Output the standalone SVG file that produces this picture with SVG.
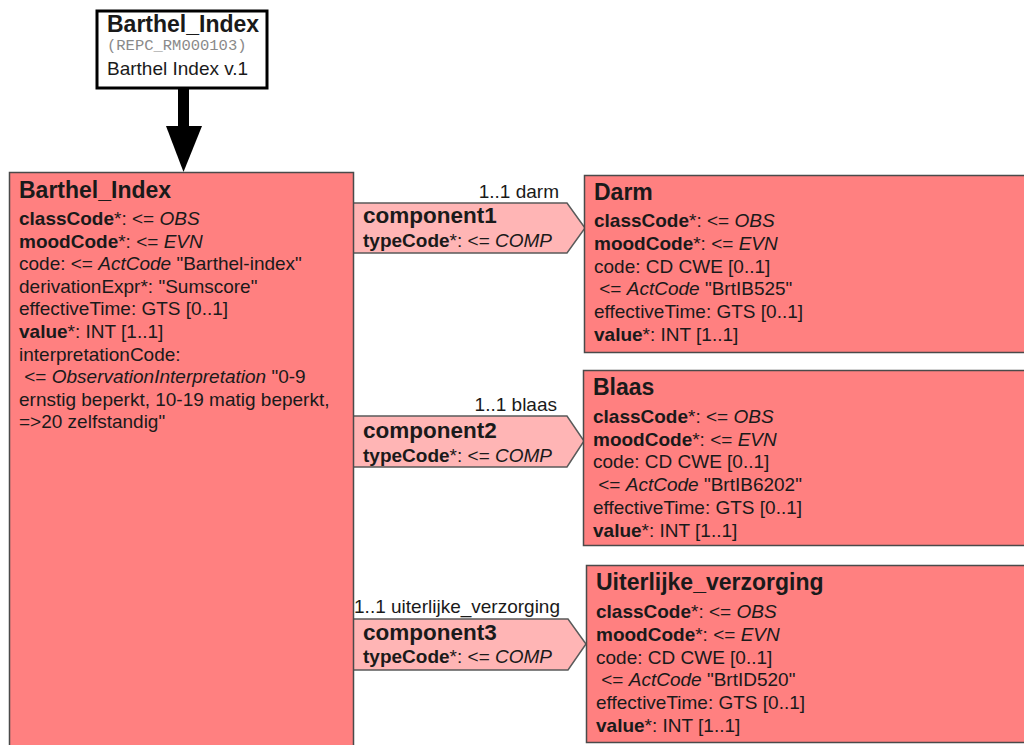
<svg xmlns="http://www.w3.org/2000/svg" width="1024" height="745" viewBox="0 0 1024 745">
<style>
text{font-family:"Liberation Sans",Arial,sans-serif;fill:#1a1a1a;font-size:19px}
.t{font-weight:bold;font-size:23px}
.ct{font-weight:bold;font-size:22.5px}
.b{font-weight:bold}
.i{font-style:italic}
.mono{font-family:"Liberation Mono","Courier New",monospace;font-size:15.5px;fill:#8a8a8a}
.cls{fill:#FF8080;stroke:#4a4a4a;stroke-width:1.5}
.shadow{fill:#c8c8c8}
.assoc{fill:#FFB5B5;stroke:#5a5a5a;stroke-width:1.5}
</style>
<rect width="1024" height="745" fill="#fff"/>

<g id="entry">
<rect x="97" y="11" width="170" height="77" fill="#fff" stroke="#000" stroke-width="3"/>
<text x="107" y="32" class="t">Barthel_Index</text>
<text x="107" y="50" class="mono">(REPC_RM000103)</text>
<text x="107" y="75" font-size="18.4px">Barthel Index v.1</text>
</g>

<g id="connectors">
<g id="entry-arrow">
<rect x="178" y="88" width="11" height="40" fill="#000"/>
<polygon points="166,126 202,126 183.5,172" fill="#000"/>
</g>
<g id="component1">
<polygon class="assoc" points="352,203 567,203 585,228 567,253 352,253"/>
<text x="559" y="198" text-anchor="end">1..1 darm</text>
<text x="363" y="223" class="ct">component1</text>
<text x="363" y="247"><tspan class="b">typeCode</tspan>*: &lt;= <tspan class="i">COMP</tspan></text>
</g>
<g id="component2">
<polygon class="assoc" points="352,416 567,416 584,441 567,467 352,467"/>
<text x="557" y="411" text-anchor="end">1..1 blaas</text>
<text x="363" y="438" class="ct">component2</text>
<text x="363" y="462"><tspan class="b">typeCode</tspan>*: &lt;= <tspan class="i">COMP</tspan></text>
</g>
<g id="component3">
<polygon class="assoc" points="352,619 568,619 586,644 568,670 352,670"/>
<text x="560" y="613" text-anchor="end">1..1 uiterlijke_verzorging</text>
<text x="363" y="640" class="ct">component3</text>
<text x="363" y="663"><tspan class="b">typeCode</tspan>*: &lt;= <tspan class="i">COMP</tspan></text>
</g>
</g>

<g id="Barthel_Index">
<rect class="cls" x="9.5" y="172.5" width="344" height="580"/>
<text x="19" y="198" class="t">Barthel_Index</text>
<text x="19" y="225"><tspan class="b">classCode</tspan>*: &lt;= <tspan class="i">OBS</tspan></text>
<text x="19" y="247.6"><tspan class="b">moodCode</tspan>*: &lt;= <tspan class="i">EVN</tspan></text>
<text x="19" y="270.2">code: &lt;= <tspan class="i">ActCode</tspan> "Barthel-index"</text>
<text x="19" y="292.8">derivationExpr*: "Sumscore"</text>
<text x="19" y="315.4">effectiveTime: GTS [0..1]</text>
<text x="19" y="338"><tspan class="b">value</tspan>*: INT [1..1]</text>
<text x="19" y="360.6">interpretationCode:</text>
<text x="19" y="383.2" xml:space="preserve"> &lt;= <tspan class="i">ObservationInterpretation</tspan> "0-9</text>
<text x="19" y="405.8">ernstig beperkt, 10-19 matig beperkt,</text>
<text x="19" y="428.4">=&gt;20 zelfstandig"</text>
</g>

<g id="Darm">
<rect class="cls" x="584.5" y="175.5" width="460" height="177"/>
<text x="594" y="200" class="t">Darm</text>
<text x="594" y="227"><tspan class="b">classCode</tspan>*: &lt;= <tspan class="i">OBS</tspan></text>
<text x="594" y="249.8"><tspan class="b">moodCode</tspan>*: &lt;= <tspan class="i">EVN</tspan></text>
<text x="594" y="272.6">code: CD CWE [0..1]</text>
<text x="594" y="295.4" xml:space="preserve"> &lt;= <tspan class="i">ActCode</tspan> "BrtIB525"</text>
<text x="594" y="318.2">effectiveTime: GTS [0..1]</text>
<text x="594" y="341"><tspan class="b">value</tspan>*: INT [1..1]</text>
</g>

<g id="Blaas">
<rect class="cls" x="583.5" y="370.5" width="460" height="175"/>
<text x="593" y="395" class="t">Blaas</text>
<text x="593" y="423"><tspan class="b">classCode</tspan>*: &lt;= <tspan class="i">OBS</tspan></text>
<text x="593" y="445.7"><tspan class="b">moodCode</tspan>*: &lt;= <tspan class="i">EVN</tspan></text>
<text x="593" y="468.4">code: CD CWE [0..1]</text>
<text x="593" y="491.1" xml:space="preserve"> &lt;= <tspan class="i">ActCode</tspan> "BrtIB6202"</text>
<text x="593" y="513.8">effectiveTime: GTS [0..1]</text>
<text x="593" y="536.5"><tspan class="b">value</tspan>*: INT [1..1]</text>
</g>

<g id="Uiterlijke_verzorging">
<rect class="cls" x="586.5" y="565.5" width="460" height="177"/>
<text x="596" y="590" class="t">Uiterlijke_verzorging</text>
<text x="596" y="618"><tspan class="b">classCode</tspan>*: &lt;= <tspan class="i">OBS</tspan></text>
<text x="596" y="640.8"><tspan class="b">moodCode</tspan>*: &lt;= <tspan class="i">EVN</tspan></text>
<text x="596" y="663.6">code: CD CWE [0..1]</text>
<text x="596" y="686.4" xml:space="preserve"> &lt;= <tspan class="i">ActCode</tspan> "BrtID520"</text>
<text x="596" y="709.2">effectiveTime: GTS [0..1]</text>
<text x="596" y="732"><tspan class="b">value</tspan>*: INT [1..1]</text>
</g>
</svg>
